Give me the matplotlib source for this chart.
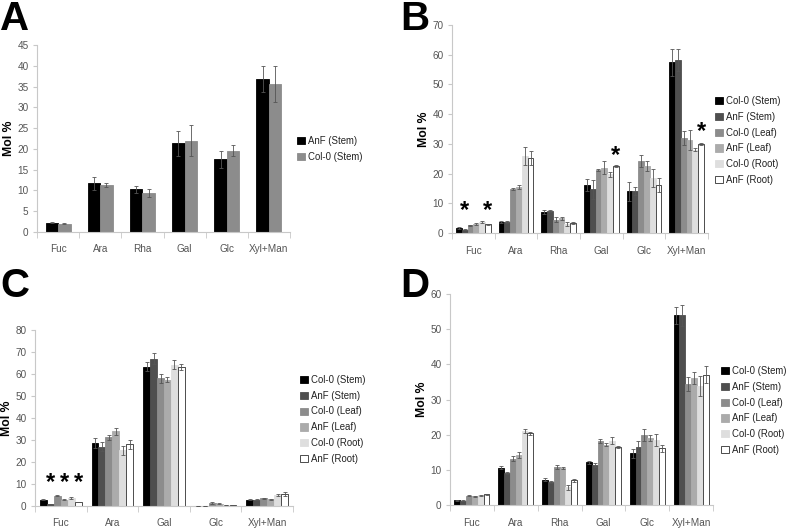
import matplotlib
matplotlib.use("Agg")
import matplotlib.pyplot as plt
import numpy as np
from matplotlib.patches import Patch

plt.rcParams["font.family"] = ["Liberation Sans", "DejaVu Sans"]

# ---- data ----
cats_a = ["Fuc", "Ara", "Rha", "Gal", "Glc", "Xyl+Man"]
labels_a = ["AnF (Stem)", "Col-0 (Stem)"]
vals_a = [
    [2.2, 11.7, 10.3, 21.3, 17.5, 36.9],
    [2.0, 11.3, 9.4, 22.0, 19.6, 35.6],
]
errs_a = [
    [0.1, 1.6, 0.8, 3.0, 2.0, 3.1],
    [0.1, 0.4, 1.0, 3.8, 1.4, 4.4],
]

labels_six = ["Col-0 (Stem)", "AnF (Stem)", "Col-0 (Leaf)", "AnF (Leaf)", "Col-0 (Root)", "AnF (Root)"]

cats_b = ["Fuc", "Ara", "Rha", "Gal", "Glc", "Xyl+Man"]
vals_b = [
    [1.7, 3.6, 7.0, 16.2, 14.0, 57.4],
    [1.1, 3.7, 7.4, 14.7, 14.2, 58.2],
    [2.6, 14.8, 4.5, 21.1, 24.3, 32.0],
    [3.0, 15.5, 4.9, 22.0, 22.6, 31.3],
    [3.7, 26.0, 3.0, 19.8, 18.6, 28.1],
    [2.9, 25.2, 3.3, 22.5, 16.1, 30.0],
]
errs_b = [
    [0.2, 0.3, 0.6, 2.0, 3.2, 4.6],
    [0.2, 0.3, 0.3, 3.2, 1.3, 3.8],
    [0.2, 0.4, 0.8, 0.4, 2.0, 2.3],
    [0.4, 0.8, 0.5, 2.3, 1.6, 3.4],
    [0.3, 3.0, 0.7, 0.8, 3.0, 0.6],
    [0.2, 2.4, 0.3, 0.3, 2.4, 0.3],
]
# significance stars: (category index, series index, y of star centre)
stars_b = [(0, 1, 10.1), (0, 5, 10.1), (3, 5, 28.6), (5, 5, 36.7)]

cats_c = ["Fuc", "Ara", "Gal", "Glc", "Xyl+Man"]
vals_c = [
    [2.9, 28.6, 63.4, 0.0, 2.9],
    [0.8, 27.0, 67.0, 0.0, 2.9],
    [4.7, 31.2, 58.0, 1.3, 3.5],
    [2.9, 33.9, 57.5, 1.0, 3.1],
    [3.6, 25.3, 64.3, 0.4, 5.0],
    [1.7, 28.1, 63.2, 0.4, 5.5],
]
errs_c = [
    [0.2, 2.3, 2.0, 0.0, 0.3],
    [0.1, 2.0, 2.5, 0.0, 0.3],
    [0.3, 1.3, 2.0, 0.4, 0.3],
    [0.2, 1.6, 1.0, 0.2, 0.3],
    [0.3, 2.0, 2.0, 0.1, 0.6],
    [0.1, 2.0, 1.3, 0.1, 0.8],
]
stars_c = [(0, 1, 14.0), (0, 3, 14.0), (0, 5, 14.0)]

cats_d = ["Fuc", "Ara", "Rha", "Gal", "Glc", "Xyl+Man"]
vals_d = [
    [1.3, 10.6, 7.2, 12.2, 14.7, 53.9],
    [1.2, 9.0, 6.5, 11.4, 16.5, 54.0],
    [2.7, 13.1, 10.8, 18.3, 20.0, 34.3],
    [2.5, 14.2, 10.5, 17.1, 19.0, 36.1],
    [2.8, 21.0, 5.1, 18.3, 18.5, 33.8],
    [3.0, 20.4, 7.0, 16.5, 16.1, 37.1],
]
errs_d = [
    [0.1, 0.4, 0.5, 0.4, 1.3, 2.3],
    [0.1, 0.3, 0.3, 0.6, 1.8, 3.0],
    [0.1, 0.7, 0.5, 0.6, 1.7, 2.0],
    [0.1, 0.8, 0.3, 0.4, 0.8, 1.6],
    [0.1, 0.5, 0.7, 1.0, 1.6, 2.9],
    [0.1, 0.4, 0.4, 0.3, 1.0, 2.5],
]

colors_a = ["#000000", "#8c8c8c"]
colors_six = ["#000000", "#4f4f4f", "#8c8c8c", "#ababab", "#dedede", "#ffffff"]
edges_six = ["#000000", "#4f4f4f", "#8c8c8c", "#ababab", "#dedede", "#303030"]

GRID = "#c8c8c8"
TXT = "#555555"


def draw_panel(ax, cats, vals, errs, colors, edges, ylim, ystep, group_w, stars=()):
    n = len(vals)
    x = np.arange(len(cats))
    w = group_w / n
    for j in range(n):
        pos = x - group_w / 2 + w * (j + 0.5)
        ax.bar(pos, vals[j], w, color=colors[j], edgecolor=edges[j], linewidth=0.6,
               zorder=2)
        ax.errorbar(pos, vals[j], yerr=errs[j], fmt="none", ecolor="#555555",
                    elinewidth=0.6, capsize=1.3, capthick=0.6, zorder=3)
    for ci, sj, y in stars:
        pos = ci - group_w / 2 + w * (sj + 0.5)
        ax.annotate("*", (pos, y), xytext=(0, -10), textcoords="offset points",
                    ha="center", va="baseline", fontsize=17, fontweight="bold",
                    color="black")
    ax.set_xlim(-0.5, len(cats) - 0.5)
    ax.set_ylim(*ylim)
    ax.set_yticks(np.arange(ylim[0], ylim[1] + 0.1, ystep))
    ax.set_xticks(x)
    ax.set_xticklabels(cats)
    ax.set_xticks(np.arange(-0.5, len(cats), 1.0), minor=True)
    ax.tick_params(axis="x", which="major", length=0, pad=9, labelsize=7.2, labelcolor=TXT)
    ax.tick_params(axis="x", which="minor", length=4, color=GRID, direction="out")
    ax.tick_params(axis="y", length=3, color=GRID, labelsize=7.2, labelcolor=TXT, pad=3)
    for s in ["top", "right"]:
        ax.spines[s].set_visible(False)
    for s in ["left", "bottom"]:
        ax.spines[s].set_color(GRID)
        ax.spines[s].set_linewidth(0.8)
    ax.set_ylabel("Mol %", fontsize=8.8, fontweight="bold", labelpad=2)


def add_legend(fig, labels, colors, edges, x, y):
    handles = [Patch(facecolor=c, edgecolor=e, linewidth=0.6) for c, e in zip(colors, edges)]
    fig.legend(handles, labels, loc="upper left", bbox_to_anchor=(x, y), frameon=False,
               fontsize=6.9, handlelength=0.8, handleheight=0.8, handletextpad=0.3,
               labelspacing=0.6, borderpad=0, borderaxespad=0, labelcolor="#222222")


W, H = 787, 530
fig = plt.figure(figsize=(W / 100, H / 100), dpi=100)


def px_axes(left, right, bottom, top):
    return fig.add_axes([left / W, 1 - bottom / H, (right - left) / W, (bottom - top) / H])


ax_a = px_axes(37, 290, 232, 45)
ax_b = px_axes(452, 708, 233, 25)
ax_c = px_axes(35, 293, 506, 330)
ax_d = px_axes(450, 713, 505, 294)

draw_panel(ax_a, cats_a, vals_a, errs_a, colors_a, colors_a, (0, 45), 5, 0.59)
draw_panel(ax_b, cats_b, vals_b, errs_b, colors_six, edges_six, (0, 70), 10, 0.82, stars_b)
draw_panel(ax_c, cats_c, vals_c, errs_c, colors_six, edges_six, (0, 80), 10, 0.81, stars_c)
draw_panel(ax_d, cats_d, vals_d, errs_d, colors_six, edges_six, (0, 60), 10, 0.80)

add_legend(fig, labels_a, colors_a, colors_a, 297 / W, 1 - 136 / H)
add_legend(fig, labels_six, colors_six, edges_six, 715 / W, 1 - 96 / H)
add_legend(fig, labels_six, colors_six, edges_six, 300 / W, 1 - 375 / H)
add_legend(fig, labels_six, colors_six, edges_six, 721 / W, 1 - 366 / H)

for letter, lx, ly in [("A", 0, 1.0), ("B", 400, 1.0), ("C", 0, 0.497), ("D", 400, 0.497)]:
    fig.text(lx / W, ly, letter, fontsize=29, fontweight="bold", ha="left", va="top")

fig.savefig("out.png", dpi=100, facecolor="white")
